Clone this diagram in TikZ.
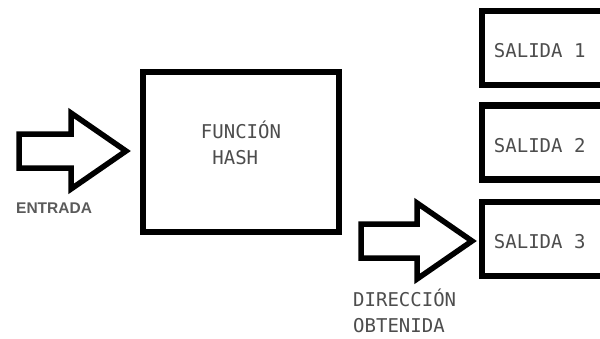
\documentclass[tikz,border=0pt]{standalone}
\usepackage{fontspec}
\newfontfamily\monofont{DejaVu Sans Mono}
\newfontfamily\labelfont{Liberation Sans}
\usetikzlibrary{positioning}

\definecolor{textgray}{HTML}{4D4D4D}
\definecolor{labelgray}{HTML}{5A5A5A}

\tikzset{
  box/.style={draw, line width=6.5pt, inner sep=0pt, fill=white},
  monotext/.style={inner sep=0pt, text=textgray, font={\monofont\fontsize{19}{26}\selectfont}},
  arrowline/.style={draw, line width=5.5pt, line join=miter, fill=white},
  % block arrow, origin at the tip, #1 = total length
  blockarrow/.pic={
    \path[arrowline] (0,0) -- (-55,-38) -- (-55,-17) -- (-#1,-17)
      -- (-#1,17) -- (-55,17) -- (-55,38) -- cycle;
  }
}

\begin{document}
\begin{tikzpicture}[x=1pt, y=-1pt, line cap=butt]
	\useasboundingbox (0,0) rectangle (600,338);
	\fill[white] (0,0) rectangle (600,338);
	\clip (0,0) rectangle (600,338);

	% hash function block
	\node[box, minimum width=196pt, minimum height=160pt] (hash) at (241,152) {};
	\node[monotext, align=left] (hashname) at ([yshift=9pt]hash.center) {FUNCIÓN\\\phantom{F}HASH};

	% output slots, cut off at the right edge
	\foreach \i/\y in {1/48, 2/142.5, 3/239} {
		\node[box, minimum width=160pt, minimum height=74pt] (out\i) at (562,\y) {};
		\node[monotext, anchor=west] (out\i text) at ([xshift=15pt, yshift=-3pt]out\i.west) {SALIDA \i};
	}

	% input arrow
	\coordinate (intip) at (126,151);
	\pic at (intip) {blockarrow=107};
	\node[inner sep=0pt, anchor=base west, text=labelgray,
	      font={\labelfont\bfseries\fontsize{15.5}{19}\selectfont}] (entrada) at (16,213) {ENTRADA};

	% arrow into the third slot
	\coordinate (addrtip) at (472,241);
	\pic at (addrtip) {blockarrow=111};
	\node[monotext, anchor=base west, align=left] (addr) at (353,332) {DIRECCIÓN\\OBTENIDA};
\end{tikzpicture}
\end{document}
